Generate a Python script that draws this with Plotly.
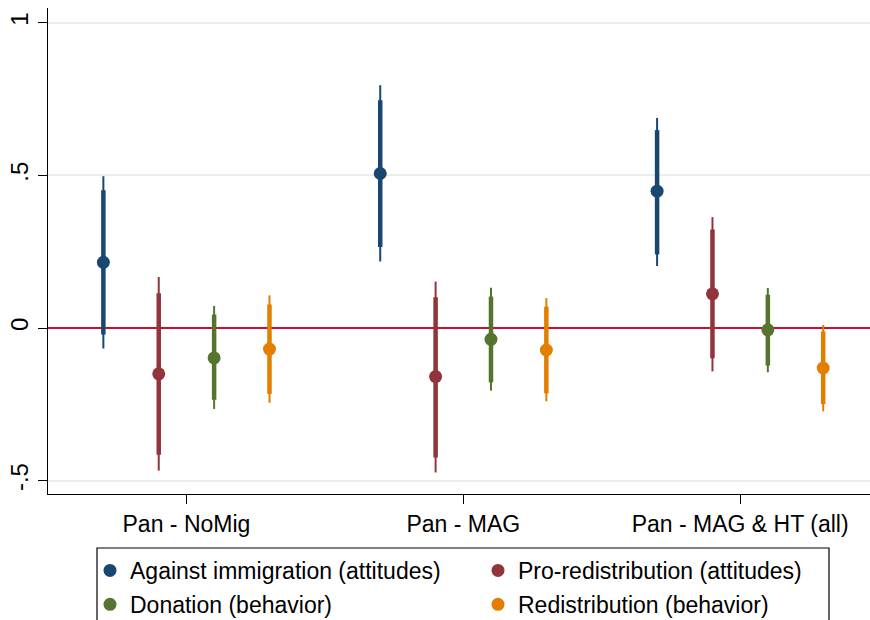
import plotly.graph_objects as go

groups = ["Pan - NoMig", "Pan - MAG", "Pan - MAG & HT (all)"]
series = ["Against immigration (attitudes)", "Pro-redistribution (attitudes)",
          "Donation (behavior)", "Redistribution (behavior)"]
colors = ["#1a476f", "#90353b", "#55752f", "#e37e00"]
offsets = [-0.3, -0.1, 0.1, 0.3]
legend_ids = ["legend", "legend2", "legend", "legend2"]

# point estimates per series across groups
est_imm = [0.215, 0.506, 0.448]
est_red = [-0.150, -0.159, 0.112]
est_don = [-0.098, -0.037, -0.006]
est_rdb = [-0.069, -0.072, -0.131]

# thick (inner) CI
lo90_imm = [-0.021, 0.265, 0.241]
hi90_imm = [0.451, 0.746, 0.648]
lo90_red = [-0.415, -0.424, -0.099]
hi90_red = [0.114, 0.101, 0.323]
lo90_don = [-0.235, -0.178, -0.123]
hi90_don = [0.044, 0.103, 0.109]
lo90_rdb = [-0.216, -0.214, -0.249]
hi90_rdb = [0.077, 0.070, -0.011]

# thin (outer) CI
lo95_imm = [-0.067, 0.218, 0.203]
hi95_imm = [0.497, 0.795, 0.688]
lo95_red = [-0.467, -0.473, -0.142]
hi95_red = [0.167, 0.152, 0.363]
lo95_don = [-0.265, -0.205, -0.145]
hi95_don = [0.072, 0.132, 0.131]
lo95_rdb = [-0.245, -0.240, -0.273]
hi95_rdb = [0.107, 0.098, 0.010]

ests = [est_imm, est_red, est_don, est_rdb]
lo90 = [lo90_imm, lo90_red, lo90_don, lo90_rdb]
hi90 = [hi90_imm, hi90_red, hi90_don, hi90_rdb]
lo95 = [lo95_imm, lo95_red, lo95_don, lo95_rdb]
hi95 = [hi95_imm, hi95_red, hi95_don, hi95_rdb]

FONT = "Liberation Sans, Arial, Helvetica, sans-serif"

# plot area in pixels (for placing legend boxes in paper coords)
L, R, T, B, W, H = 48, 0, 8, 126, 870, 620
PW, PH = W - L - R, H - T - B


def px_x(px):
    return (px - L) / PW


def px_y(py):
    return (H - B - py) / PH


fig = go.Figure()
for i in range(4):
    xs = [g + 1 + offsets[i] for g in range(3)]
    e = ests[i]
    fig.add_trace(go.Scatter(
        x=xs, y=e, mode="markers", showlegend=False, hoverinfo="skip",
        marker=dict(size=1, color=colors[i], opacity=0),
        error_y=dict(type="data", symmetric=False,
                     array=[h - v for h, v in zip(hi95[i], e)],
                     arrayminus=[v - l for l, v in zip(lo95[i], e)],
                     color=colors[i], thickness=2, width=0),
    ))
    fig.add_trace(go.Scatter(
        x=xs, y=e, mode="markers", name=series[i],
        legend=legend_ids[i], legendgroup=series[i],
        marker=dict(size=13, color=colors[i]),
        error_y=dict(type="data", symmetric=False,
                     array=[h - v for h, v in zip(hi90[i], e)],
                     arrayminus=[v - l for l, v in zip(lo90[i], e)],
                     color=colors[i], thickness=4.5, width=0),
    ))

leg_common = dict(
    orientation="v", yanchor="top", y=px_y(549),
    borderwidth=0, bgcolor="rgba(0,0,0,0)", tracegroupgap=1,
    font=dict(family=FONT, size=23, color="black"), traceorder="grouped",
)

fig.update_layout(
    width=W, height=H,
    margin=dict(l=L, r=R, t=T, b=B, autoexpand=False),
    paper_bgcolor="white", plot_bgcolor="white",
    font=dict(family=FONT, size=22, color="black"),
    showlegend=True,
    legend=dict(x=px_x(90), xanchor="left", **leg_common),
    legend2=dict(x=px_x(478), xanchor="left", **leg_common),
    shapes=[dict(type="rect", xref="paper", yref="paper",
                 x0=px_x(97), x1=px_x(829), y0=px_y(548), y1=px_y(640),
                 line=dict(color="black", width=1.2), fillcolor="rgba(0,0,0,0)")],
    xaxis=dict(
        range=[0.5, 3.469], tickvals=[1, 2, 3], ticktext=groups,
        showgrid=False, zeroline=False, showline=True, linecolor="black",
        linewidth=1.3, ticks="outside", ticklen=9, tickcolor="black",
        tickfont=dict(size=23),
    ),
    yaxis=dict(
        range=[-0.5436, 1.048], tickvals=[-0.5, 0, 0.5, 1],
        ticktext=["-.5", "0", ".5", "1"], tickangle=-90,
        showgrid=True, gridcolor="#e9eff1", gridwidth=1.5,
        zeroline=True, zerolinecolor="#c8102e", zerolinewidth=2,
        showline=True, linecolor="black", linewidth=1.3,
        ticks="outside", ticklen=9, tickcolor="black",
        tickfont=dict(size=24),
    ),
)

fig.write_html("out.html")
